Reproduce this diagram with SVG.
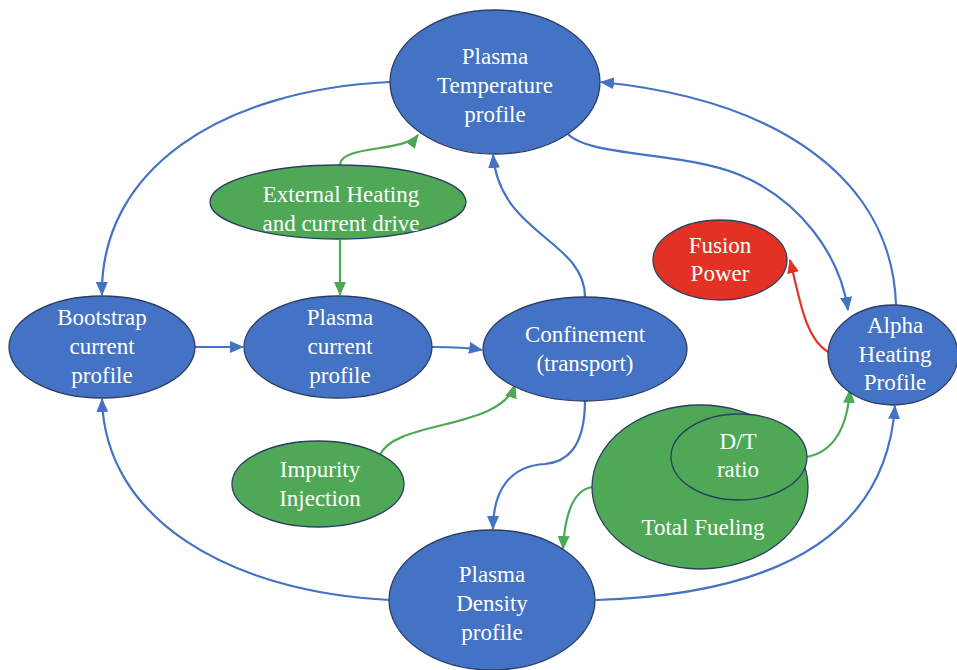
<svg xmlns="http://www.w3.org/2000/svg" width="957" height="670" viewBox="0 0 957 670">
<style>
.b{fill:#4472C4;stroke:#2C3E63;stroke-width:1.3}
.g{fill:#4EA855;stroke:#2C3E63;stroke-width:1.3}
.r{fill:#E33224;stroke:#2C3E63;stroke-width:1.3}
text{font-size:23px;fill:#fff;text-anchor:middle}
.cb{fill:none;stroke:#4472C4;stroke-width:2.2}
.cg{fill:none;stroke:#4EA855;stroke-width:2.2}
.cr{fill:none;stroke:#E33224;stroke-width:2.2}
</style>
<defs>
<marker id="ab" viewBox="0 0 14 12" refX="13" refY="6" markerWidth="14" markerHeight="12" orient="auto" markerUnits="userSpaceOnUse"><path d="M0,0 L14,6 L0,12 z" fill="#4472C4"/></marker>
<marker id="ag" viewBox="0 0 14 12" refX="13" refY="6" markerWidth="14" markerHeight="12" orient="auto" markerUnits="userSpaceOnUse"><path d="M0,0 L14,6 L0,12 z" fill="#4EA855"/></marker>
<marker id="ar" viewBox="0 0 14 12" refX="13" refY="6" markerWidth="14" markerHeight="12" orient="auto" markerUnits="userSpaceOnUse"><path d="M0,0 L14,6 L0,12 z" fill="#E33224"/></marker>
</defs>
<g id="connectors">
<path class="cb" marker-end="url(#ab)" d="M390,82 C220,90 100,170 102,295"/>
<path class="cb" marker-end="url(#ab)" d="M195,347 L243,347"/>
<path class="cb" marker-end="url(#ab)" d="M432,347 C450,347 465,347 482,350"/>
<path class="cb" marker-end="url(#ab)" d="M585,297 C585,240 500,235 493,155"/>
<path class="cg" marker-end="url(#ag)" d="M340,165 C340,145 405,152 418,135"/>
<path class="cg" marker-end="url(#ag)" d="M340,240 L340,295"/>
<path class="cg" marker-end="url(#ag)" d="M380,455 C395,420 500,430 515,385"/>
<path class="cb" marker-end="url(#ab)" d="M585,400 C585,450 565,462 545,464 C510,466 493,490 493,529"/>
<path class="cb" marker-end="url(#ab)" d="M390,600 C230,592 105,520 102,399"/>
<path class="cb" marker-end="url(#ab)" d="M596,600 C760,595 885,545 895,406"/>
<path class="cb" marker-end="url(#ab)" d="M565,130 C580,158 680,150 740,175 C800,200 840,255 848,310"/>
<path class="cb" marker-end="url(#ab)" d="M896,305 C892,180 780,100 601,82"/>
<path class="cr" marker-end="url(#ar)" d="M828,352 C805,338 800,300 790,260"/>
<path class="cg" marker-end="url(#ag)" d="M807,457 C832,452 847,430 850,390"/>
<path class="cg" marker-end="url(#ag)" d="M592,487 C575,490 565,510 563,549"/>
</g>
<g font-family="Liberation Serif, Tinos, DejaVu Serif, serif">
<g id="temperature"><ellipse class="b" cx="495" cy="82" rx="105" ry="72"/><text x="495" y="64">Plasma</text><text x="495" y="93">Temperature</text><text x="495" y="122">profile</text></g>
<g id="external"><ellipse class="g" cx="338" cy="202" rx="128" ry="37"/><text x="341" y="202">External Heating</text><text x="341" y="231">and current drive</text></g>
<g id="bootstrap"><ellipse class="b" cx="102" cy="347" rx="93" ry="51"/><text x="102" y="325">Bootstrap</text><text x="102" y="354">current</text><text x="102" y="383">profile</text></g>
<g id="plasmacurrent"><ellipse class="b" cx="338" cy="347" rx="94" ry="51"/><text x="340" y="325">Plasma</text><text x="340" y="354">current</text><text x="340" y="383">profile</text></g>
<g id="confinement"><ellipse class="b" cx="585" cy="349" rx="102" ry="52"/><text x="585" y="342">Confinement</text><text x="585" y="371">(transport)</text></g>
<g id="impurity"><ellipse class="g" cx="318" cy="484" rx="86" ry="43"/><text x="320" y="477">Impurity</text><text x="320" y="506">Injection</text></g>
<g id="fusion"><ellipse class="r" cx="720" cy="260" rx="67" ry="40"/><text x="720" y="253">Fusion</text><text x="720" y="281">Power</text></g>
<g id="alpha"><ellipse class="b" cx="893" cy="355" rx="65" ry="50"/><text x="895" y="333">Alpha</text><text x="895" y="362">Heating</text><text x="895" y="390">Profile</text></g>
<g id="fueling"><ellipse class="g" cx="700" cy="487" rx="108" ry="82"/><text x="703" y="535">Total Fueling</text></g>
<g id="dt"><ellipse class="g" cx="739" cy="457" rx="68" ry="43"/><text x="738" y="449">D/T</text><text x="738" y="477">ratio</text></g>
<g id="density"><ellipse class="b" cx="492" cy="600" rx="103" ry="70"/><text x="492" y="582">Plasma</text><text x="492" y="611">Density</text><text x="492" y="640">profile</text></g>
</g>
</svg>
